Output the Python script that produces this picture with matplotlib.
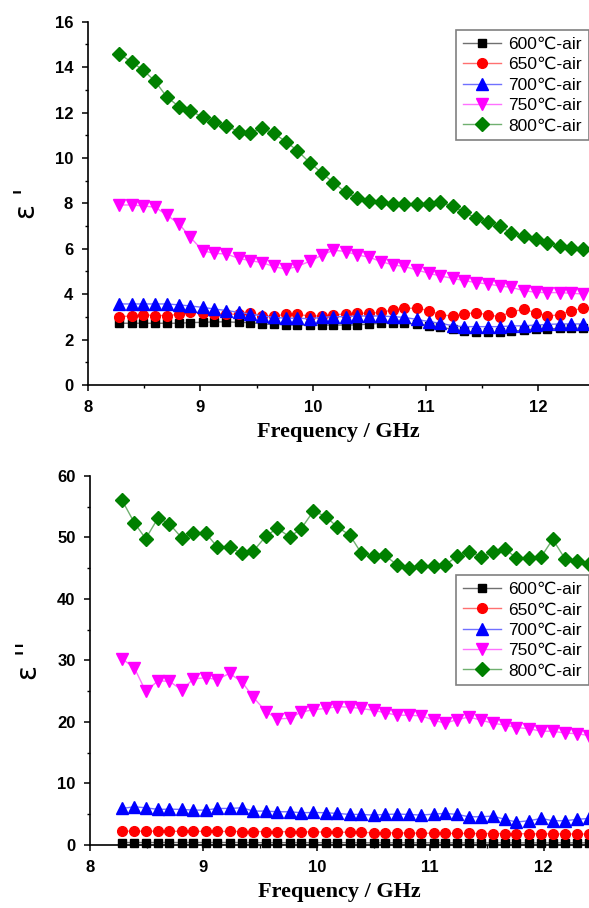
import matplotlib
matplotlib.use('Agg')
import matplotlib.pyplot as plt
from matplotlib.ticker import MultipleLocator
from matplotlib.font_manager import FontProperties

# frequency points (GHz)
freq = [8.28, 8.39, 8.49, 8.60, 8.70, 8.81, 8.91, 9.02, 9.12, 9.23,
        9.34, 9.44, 9.55, 9.65, 9.76, 9.86, 9.97, 10.08, 10.18, 10.29,
        10.39, 10.50, 10.60, 10.71, 10.81, 10.92, 11.03, 11.13, 11.24, 11.34,
        11.45, 11.55, 11.66, 11.76, 11.87, 11.98, 12.08, 12.19, 12.29, 12.40]

labels = ['600\u2103-air', '650\u2103-air', '700\u2103-air', '750\u2103-air', '800\u2103-air']

#==============================================================================
# real part  eps'
#==============================================================================
re_600 = [2.72, 2.72, 2.72, 2.72, 2.72, 2.72, 2.75, 2.76, 2.78, 2.78,
          2.76, 2.75, 2.69, 2.67, 2.66, 2.64, 2.64, 2.64, 2.64, 2.64,
          2.65, 2.68, 2.72, 2.72, 2.72, 2.69, 2.62, 2.55, 2.45, 2.38,
          2.33, 2.32, 2.32, 2.36, 2.42, 2.47, 2.48, 2.49, 2.50, 2.50]
re_650 = [3.01, 3.04, 3.09, 3.06, 3.06, 3.11, 3.20, 3.19, 3.13, 3.13,
          3.11, 3.19, 3.04, 3.04, 3.11, 3.11, 3.04, 3.04, 3.09, 3.13,
          3.16, 3.16, 3.20, 3.31, 3.38, 3.38, 3.28, 3.09, 3.04, 3.13,
          3.19, 3.09, 3.01, 3.23, 3.33, 3.19, 3.04, 3.09, 3.28, 3.38]
re_700 = [3.57, 3.57, 3.57, 3.57, 3.57, 3.53, 3.48, 3.42, 3.35, 3.28,
          3.20, 3.13, 3.04, 2.98, 2.94, 2.94, 2.92, 2.98, 3.01, 3.01,
          3.04, 3.04, 3.04, 3.01, 2.98, 2.89, 2.79, 2.72, 2.61, 2.57,
          2.57, 2.57, 2.57, 2.60, 2.61, 2.64, 2.67, 2.69, 2.69, 2.69]
re_750 = [7.93, 7.93, 7.89, 7.83, 7.49, 7.10, 6.51, 5.92, 5.80, 5.77,
          5.58, 5.48, 5.39, 5.22, 5.10, 5.22, 5.45, 5.72, 5.94, 5.88,
          5.73, 5.63, 5.44, 5.29, 5.22, 5.07, 4.92, 4.80, 4.70, 4.60,
          4.51, 4.45, 4.36, 4.30, 4.16, 4.08, 4.07, 4.07, 4.04, 4.01]
re_800 = [14.59, 14.22, 13.88, 13.37, 12.70, 12.26, 12.08, 11.80, 11.58, 11.43,
          11.15, 11.12, 11.30, 11.09, 10.72, 10.33, 9.80, 9.33, 8.92, 8.49,
          8.23, 8.12, 8.08, 7.96, 7.96, 7.99, 7.99, 8.04, 7.89, 7.61,
          7.35, 7.20, 7.01, 6.68, 6.57, 6.42, 6.27, 6.13, 6.04, 5.98]

#==============================================================================
# imaginary part  eps''
#==============================================================================
im_600 = [0.40, 0.40, 0.40, 0.40, 0.40, 0.40, 0.40, 0.40, 0.40, 0.40,
          0.40, 0.38, 0.38, 0.38, 0.38, 0.38, 0.38, 0.38, 0.38, 0.38,
          0.36, 0.36, 0.36, 0.36, 0.36, 0.36, 0.36, 0.35, 0.35, 0.35,
          0.35, 0.35, 0.35, 0.35, 0.35, 0.35, 0.35, 0.35, 0.35, 0.35]
im_650 = [2.25, 2.25, 2.24, 2.24, 2.23, 2.22, 2.22, 2.21, 2.20, 2.20,
          2.19, 2.18, 2.17, 2.16, 2.15, 2.14, 2.12, 2.10, 2.08, 2.06,
          2.04, 2.00, 1.98, 1.96, 1.94, 1.92, 1.90, 1.89, 1.88, 1.87,
          1.86, 1.85, 1.84, 1.83, 1.82, 1.81, 1.80, 1.79, 1.78, 1.77]
im_700 = [5.94, 6.21, 6.05, 5.78, 5.83, 5.78, 5.67, 5.67, 5.94, 5.94,
          6.05, 5.51, 5.51, 5.40, 5.40, 5.24, 5.29, 5.24, 5.13, 4.97,
          4.97, 4.86, 4.97, 5.02, 4.97, 4.86, 5.02, 5.13, 4.97, 4.59,
          4.59, 4.70, 4.16, 3.73, 3.94, 4.32, 3.94, 3.94, 4.16, 4.32]
im_750 = [30.3, 28.8, 25.0, 26.7, 26.6, 25.2, 27.0, 27.2, 26.9, 27.9,
          26.5, 24.0, 21.7, 20.5, 20.6, 21.6, 22.0, 22.2, 22.5, 22.4,
          22.2, 21.9, 21.5, 21.1, 21.1, 21.0, 20.3, 19.8, 20.4, 20.8,
          20.3, 19.8, 19.5, 19.1, 18.9, 18.5, 18.5, 18.2, 18.1, 17.8]
im_800 = [56.1, 52.4, 49.8, 53.2, 52.2, 49.9, 50.8, 50.7, 48.5, 48.4,
          47.4, 47.8, 50.2, 51.5, 50.1, 51.4, 54.3, 53.4, 51.7, 50.4,
          47.5, 47.0, 47.1, 45.5, 45.0, 45.4, 45.4, 45.5, 47.0, 47.7,
          46.9, 47.6, 48.2, 46.6, 46.6, 46.9, 49.7, 46.5, 46.1, 45.7]

colors = ['black', 'red', 'blue', 'magenta', 'green']
line_colors = ['#707070', '#ff7070', '#7070ff', '#ff70ff', '#70b070']
markers = ['s', 'o', '^', 'v', 'D']
msizes = [6, 7, 8, 8, 7]

tick_font = {'family': 'Liberation Sans', 'weight': 'bold', 'size': 12}
xlab_font = {'family': 'Liberation Serif', 'weight': 'bold', 'size': 16}
leg_font = {'family': ['Liberation Sans', 'DejaVu Sans'], 'size': 12.5}


def style_axes(ax, xmax, ymax, ymajor, yminor, ylabel):
    ax.set_xlim(8, xmax)
    ax.set_ylim(0, ymax)
    ax.spines['top'].set_visible(False)
    ax.spines['right'].set_visible(False)
    for s in ['left', 'bottom']:
        ax.spines[s].set_linewidth(1.2)
    ax.xaxis.set_major_locator(MultipleLocator(1))
    ax.xaxis.set_minor_locator(MultipleLocator(0.5))
    ax.yaxis.set_major_locator(MultipleLocator(ymajor))
    ax.yaxis.set_minor_locator(MultipleLocator(yminor))
    ax.tick_params(which='major', direction='out', length=4.5, width=1.1, pad=6)
    ax.tick_params(which='minor', direction='out', length=2.5, width=1.0)
    for lab in ax.get_xticklabels() + ax.get_yticklabels():
        lab.set_fontproperties(FontProperties(**tick_font))
    ax.set_xlabel('Frequency / GHz', fontdict=xlab_font, labelpad=5)
    ax.set_ylabel(ylabel, fontsize=20, family='DejaVu Sans', labelpad=10)


def add_legend(ax, top):
    leg = ax.legend(loc='upper right', bbox_to_anchor=(1.0, top), prop=leg_font,
                    handlelength=2.2, labelspacing=0.3, borderpad=0.4,
                    handletextpad=0.4, borderaxespad=0, fancybox=False, framealpha=1)
    leg.get_frame().set_edgecolor('#808080')
    leg.get_frame().set_linewidth(1.2)


fig = plt.figure(figsize=(5.89, 9.08), dpi=100)

ax1 = fig.add_axes([0.149, 0.576, 0.851, 0.400])
for i, ys in enumerate([re_600, re_650, re_700, re_750, re_800]):
    ax1.plot(freq, ys, '-', color=line_colors[i], lw=1.0, marker=markers[i],
             ms=msizes[i], mfc=colors[i], mec=colors[i], label=labels[i], clip_on=False)
style_axes(ax1, 12.45, 16, 2, 1, "\u03b5 '")
add_legend(ax1, 0.978)

ax2 = fig.add_axes([0.153, 0.0694, 0.847, 0.4064])
for i, ys in enumerate([im_600, im_650, im_700, im_750, im_800]):
    ax2.plot(freq, ys, '-', color=line_colors[i], lw=1.0, marker=markers[i],
             ms=msizes[i], mfc=colors[i], mec=colors[i], label=labels[i], clip_on=False)
style_axes(ax2, 12.40, 60, 10, 5, "\u03b5 ''")
add_legend(ax2, 0.732)

plt.savefig('out.png', dpi=100)
